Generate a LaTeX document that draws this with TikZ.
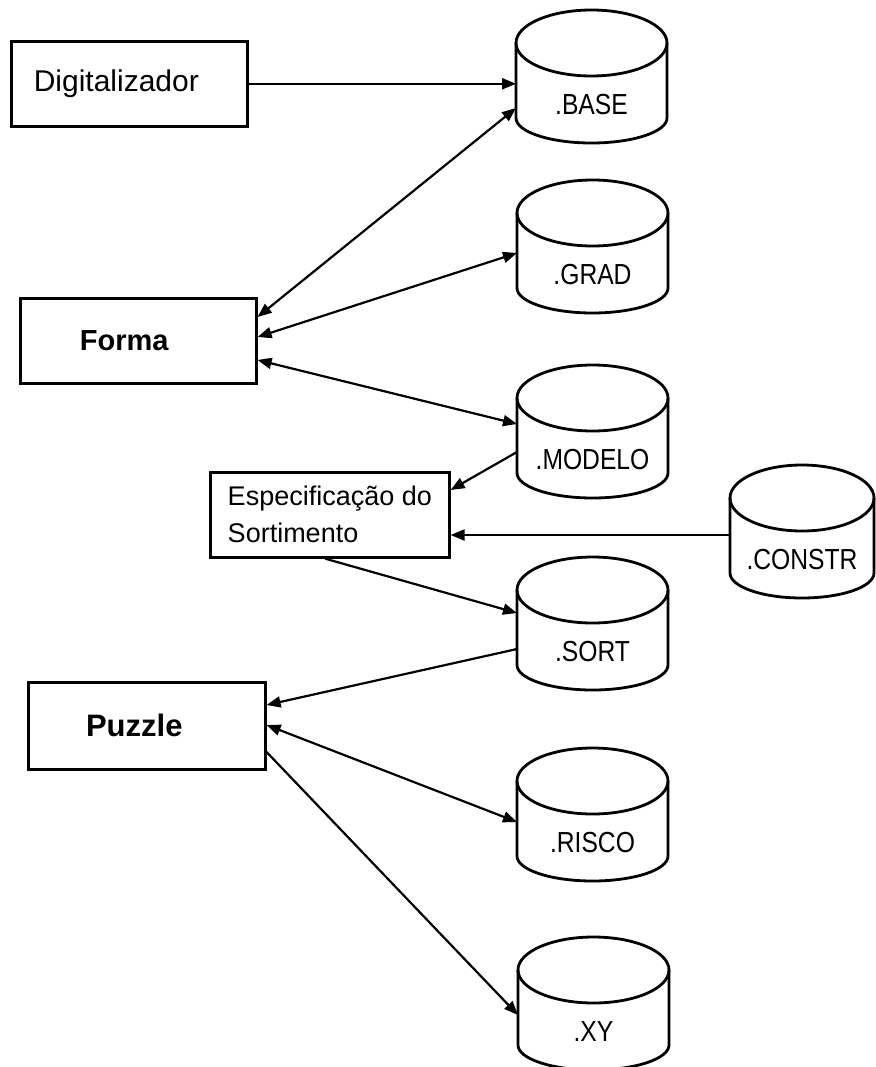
\documentclass[tikz,border=0pt]{standalone}
\usepackage{fontspec}
\setmainfont{Liberation Sans}
\newfontfamily\condfont[FakeStretch=0.85]{Liberation Sans}
\usetikzlibrary{arrows.meta,calc}
% cylinder: name, x, y (top-left), width, label
\newcommand\dbcyl[5]{%
  \node[dbbox, minimum width={#4pt}] (#1) at (#2,#3) {};
  \draw[dbline] ($(#1.north west)+(0,33)$) -- ($(#1.north west)+(0,108)$)
     arc[start angle=180, end angle=360, x radius={(#4)*0.5pt}, y radius=25pt]
     -- ($(#1.north east)+(0,33)$);
  \draw[dbline] ($(#1.north)+(0,33)$) ellipse[x radius={(#4)*0.5pt}, y radius=33pt];
  \node[lbl] (#1t) at ($(#1.north)+(0,95)$) {#5};
}
\begin{document}
\begin{tikzpicture}[x=1pt,y=-1pt,
  procbox/.style={draw, line width=2.6pt, rectangle, anchor=north west, inner sep=0pt},
  dbbox/.style={anchor=north west, minimum height=133pt, inner sep=0pt, outer sep=0pt},
  dbline/.style={line width=2.8pt},
  flow/.style={line width=2.2pt, -{Triangle[length=14pt,width=11pt]}},
  bflow/.style={line width=2.2pt, {Triangle[length=14pt,width=11pt]}-{Triangle[length=14pt,width=11pt]}},
  lbl/.style={font=\condfont\fontsize{29}{32}\selectfont}
]
\useasboundingbox (0,0) rectangle (875,1067);

% process boxes
\node[procbox, minimum width=236pt, minimum height=85pt, font=\fontsize{30}{36}\selectfont] (dig) at (10,40)
  {\hspace*{-26pt}Digitalizador};
\node[procbox, minimum width=236pt, minimum height=85pt, font=\fontsize{29}{34}\selectfont\bfseries] (forma) at (19,297)
  {\hspace*{-28pt}Forma};
\node[procbox, minimum width=239pt, minimum height=85pt, align=left, font=\fontsize{27}{37}\selectfont] (espec) at (209,471)
  {Especificação do\\Sortimento};
\node[procbox, minimum width=237pt, minimum height=87pt, font=\fontsize{31}{36}\selectfont\bfseries] (puzzle) at (27,681)
  {\hspace*{-25pt}Puzzle};

% data stores
\dbcyl{BASE}{516}{10}{151}{.BASE}
\dbcyl{GRAD}{517}{180}{151}{.GRAD}
\dbcyl{MODELO}{517}{365}{151}{.MODELO}
\dbcyl{CONSTR}{730}{465}{144}{.CONSTR}
\dbcyl{SORT}{517}{557}{151}{.SORT}
\dbcyl{RISCO}{517}{748}{151}{.RISCO}
\dbcyl{XY}{518}{937}{151}{.XY}

% connectors
\draw[flow] (dig.east) -- (dig.east -| BASE.west);
\draw[bflow] ($(BASE.north west)+(0,98)$) -- ($(forma.north east)+(0,20)$);
\draw[bflow] ($(GRAD.north west)+(0,73)$) -- ($(forma.north east)+(0,40)$);
\draw[bflow] ($(MODELO.north west)+(0,59)$) -- ($(forma.north east)+(0,63)$);
\draw[flow] ($(MODELO.north west)+(0,87)$) -- ($(espec.north east)+(0,19)$);
\draw[flow] ($(CONSTR.north west)+(0,70)$) -- ($(espec.north east)+(0,64)$);
\draw[flow] ($(espec.south west)+(116,0)$) -- ($(SORT.north west)+(0,56)$);
\draw[flow] ($(SORT.north west)+(0,92)$) -- ($(puzzle.north east)+(0,24)$);
\draw[bflow] ($(puzzle.north east)+(0,44)$) -- ($(RISCO.north west)+(0,74)$);
\draw[flow] ($(puzzle.north east)+(0,71)$) -- ($(XY.north west)+(0,78)$);
\end{tikzpicture}
\end{document}
